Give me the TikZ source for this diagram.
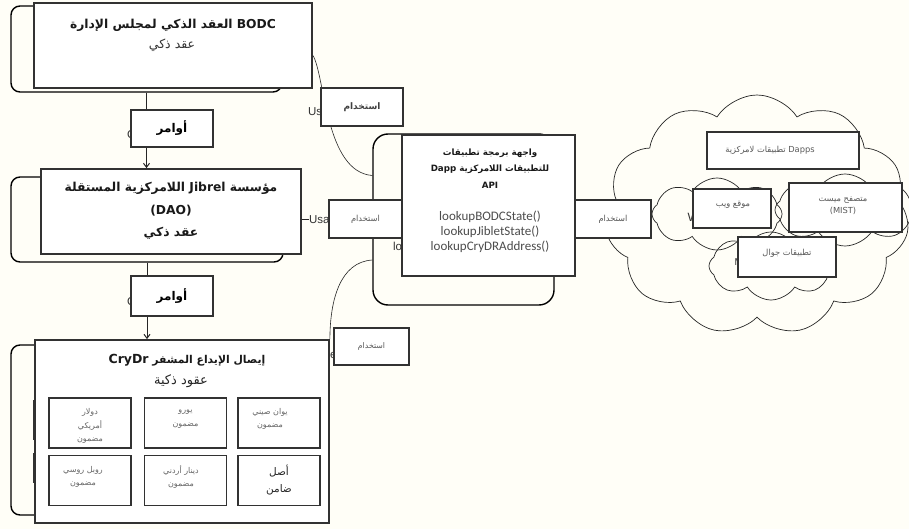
\documentclass[tikz,border=0pt]{standalone}
\usepackage{fontspec}
\usetikzlibrary{shapes.symbols,calc,arrows.meta}
\TeXXeTstate=1
\newfontfamily\arfont[Script=Arabic]{DejaVu Sans}
\newfontfamily\latfont{Liberation Sans}
\newfontfamily\calfont{Carlito}
\newcommand\AR[1]{{\arfont\beginR#1\endR}}
\newcommand\fsz[2]{\fontsize{#1}{#2}\selectfont}
\definecolor{bg}{RGB}{255,254,247}
\definecolor{edge}{RGB}{50,50,50}
\begin{document}
\begin{tikzpicture}[x=1pt,y=-1pt,
  back/.style={draw=black, line width=1.4pt, rounded corners=9pt, inner sep=0pt},
  front/.style={draw=edge, line width=1.8pt, fill=white, inner sep=0pt},
  lbl/.style={draw=edge, line width=1.4pt, fill=white, inner sep=0pt},
  inbox/.style={draw=edge, line width=1.6pt, fill=white, minimum width=82pt, minimum height=50pt, inner sep=0pt},
  cbox/.style={draw=edge, line width=1.5pt, fill=white, inner sep=0pt},
  conn/.style={draw=black!85, line width=0.6pt},
  arr/.style={draw=black!85, line width=1pt, -{Straight Barb[length=4pt,width=6pt]}},
  partial/.style={font=\latfont\fsz{11.5}{12}, text=black!80, inner sep=0.3pt, fill=bg, anchor=west},
  puff/.style={cloud, draw=black!85, line width=0.7pt, cloud puffs=#1, cloud puff arc=115, cloud ignores aspect, inner sep=0pt},
  ttl/.style={align=center, inner sep=0pt, text=black!90},
  small/.style={align=center, inner sep=0pt, text=black!60, font=\arfont\fsz{8}{13.5}},
  ctext/.style={font=\arfont\fsz{8.3}{12}, text=black!65},
]
\useasboundingbox (0,0) rectangle (909,529);
\fill[bg] (0,0) rectangle (909,529);

% clouds
\node[puff=11, minimum width=304pt, minimum height=240pt] (cloud) at (757,215) {};
\node[puff=8, minimum width=130pt, minimum height=72pt] (webcloud) at (717,214) {};
\node[puff=8, minimum width=140pt, minimum height=72pt] (mistcloud) at (845,210) {};
\node[puff=8, minimum width=124pt, minimum height=68pt] (mobcloud) at (771,266) {};

% back rounded rectangles
\node[back, minimum width=271pt, minimum height=86pt] (back1) at (146.5,49) {};
\node[back, minimum width=272pt, minimum height=85pt] (back2) at (147,219.5) {};
\node[back, minimum width=289pt, minimum height=170pt] (back3) at (155.5,430) {};
\node[back, rounded corners=15pt, minimum width=181pt, minimum height=171pt] (apiback) at (463.5,219.5) {};

% front boxes
\node[front, minimum width=278pt, minimum height=85pt] (bodc) at (173,45.5) {};
\node[front, minimum width=260pt, minimum height=85pt] (dao) at (171,211.5) {};
\node[front, minimum width=294pt, minimum height=183pt] (crydr) at (182,431.5) {};
\draw[edge, line width=2.4pt] (34,400) -- (34,440) (34,453) -- (34,483);

% titles
\node[ttl, font=\arfont\bfseries\fsz{12.3}{20}] (bodct) at (173,25) {\AR{\beginL BODC\endL{} العقد الذكي لمجلس الإدارة}};
\node[ttl, font=\arfont\fsz{12.5}{20}, text=black!80] (bodcs) at (172,45) {\AR{عقد ذكي}};
\node[ttl, font=\arfont\bfseries\fsz{12.3}{22.5}] (daot) at (171,211) {\AR{مؤسسة \beginL Jibrel\endL{} اللامركزية المستقلة}\\(DAO)\\\AR{عقد ذكي}};
\node[ttl, font=\arfont\bfseries\fsz{10.8}{20}] (cryt) at (187,360) {\AR{إيصال الإيداع المشفر \beginL{\fsz{12.5}{20}CryDr}\endL}};
\node[ttl, font=\arfont\fsz{13}{20}, text=black!85] (crys) at (181,381) {\AR{عقود ذكية}};

% inner boxes
\node[inbox] (usd) at (90,423) {};
\node[inbox] (eur) at (185.5,423) {};
\node[inbox] (cny) at (279,423) {};
\node[inbox] (rub) at (90,480.5) {};
\node[inbox] (jod) at (185.5,480.5) {};
\node[inbox] (asset) at (279,480.5) {};
\node[small] (usdt) at (90,426) {\AR{دولار}\\\AR{أمريكي}\\\AR{مضمون}};
\node[small] (eurt) at (185.5,419) {\AR{يورو}\\\AR{مضمون}};
\node[small] (cnyt) at (270,419) {\AR{يوان صيني}\\\AR{مضمون}};
\node[small] (rubt) at (83,477) {\AR{روبل روسي}\\\AR{مضمون}};
\node[small] (jodt) at (181,477) {\AR{دينار أردني}\\\AR{مضمون}};
\node[small, font=\arfont\fsz{10.5}{17}, text=black!85] (assett) at (279,480) {\AR{أصل}\\\AR{ضامن}};

% arrows (commands)
\draw[arr] (back1.south) -- (back1.south |- dao.north);
\draw[arr] (back2.south) -- (back2.south |- crydr.north);

% connectors (usage)
\draw[conn] ([yshift=-10pt]bodc.east) .. controls (325,75) and (325,172) .. ([yshift=44pt]apiback.west);
\draw[conn] ([yshift=-7.5pt]dao.east) -- ([yshift=-7.5pt]dao.east -| apiback.west);
\draw[conn] ([yshift=-40.5pt]apiback.west) .. controls (340,262) and (330,300) .. (crydr.north east);

% partial labels
\node[partial] (pc1) at (126.5,135) {C};
\node[partial] (pc2) at (126.5,302) {C};
\node[partial] (pus1) at (307.5,112) {Uses};
\node[partial] (pus2) at (308.5,221) {Usage};
\node[partial] (pe) at (329.5,355) {e};
\node[partial] (plo) at (392.5,248) {lookup};
\node[partial, font=\latfont\fsz{12}{12}] (pw) at (687,217) {Web};
\node[partial, font=\latfont\fsz{10}{12}] (pm) at (734,262) {Mobile};

% API box
\node[front, minimum width=173pt, minimum height=141pt] (api) at (488.5,205.5) {};
\node[ttl, font=\arfont\bfseries\fsz{8.7}{16.5}] (apit) at (490,168.5) {\AR{واجهة برمجة تطبيقات}\\\AR{للتطبيقات اللامركزية \beginL Dapp\endL}\\API};
\node[ttl, font=\calfont\fsz{13}{15}, text=black!70] (lkt) at (490,232) {lookupBODCState()\\lookupJibletState()\\lookupCryDRAddress()};
\draw[conn] (api.east |- 0,219) -- (cloud.west |- 0,219);

% label boxes
\node[lbl, minimum width=82pt, minimum height=37pt, font=\arfont\bfseries\fsz{12}{12}] (cmd1) at (172,128.5) {\AR{أوامر}};
\node[lbl, minimum width=82pt, minimum height=40pt, font=\arfont\bfseries\fsz{12}{12}] (cmd2) at (172,296) {\AR{أوامر}};
\node[lbl, minimum width=82pt, minimum height=38pt, font=\arfont\bfseries\fsz{9}{10}, text=black!75] (use1) at (362,107) {\AR{استخدام}};
\node[lbl, minimum width=73pt, minimum height=38pt, font=\arfont\fsz{8.3}{10}, text=black!65] (use2) at (365.5,219) {\AR{استخدام}};
\node[lbl, minimum width=75pt, minimum height=37pt, font=\arfont\fsz{7.8}{10}, text=black!65] (use3) at (371.5,346.5) {\AR{استخدام}};
\node[lbl, minimum width=76pt, minimum height=38pt, font=\arfont\fsz{8.3}{10}, text=black!65] (use4) at (613,219) {\AR{استخدام}};

% cloud boxes
\node[cbox, minimum width=152pt, minimum height=37pt] (dapps) at (783,150.5) {};
\node[ttl, ctext] (dappst) at (770,150) {\AR{\beginL Dapps\endL{} تطبيقات لامركزية}};
\node[cbox, minimum width=78pt, minimum height=39pt, ctext] (web) at (732,208.5) {};
\node[ttl, ctext] (webt) at (733,205) {\AR{موقع ويب}};
\node[cbox, minimum width=113pt, minimum height=49pt] (mist) at (845.5,207.5) {};
\node[ttl, ctext] (mistt) at (843,206) {\AR{متصفح ميست}\\(MIST)};
\node[cbox, minimum width=98pt, minimum height=40pt] (mobile) at (787,257) {};
\node[ttl, ctext] (mobilet) at (787,253) {\AR{تطبيقات جوال}};
\end{tikzpicture}
\end{document}
